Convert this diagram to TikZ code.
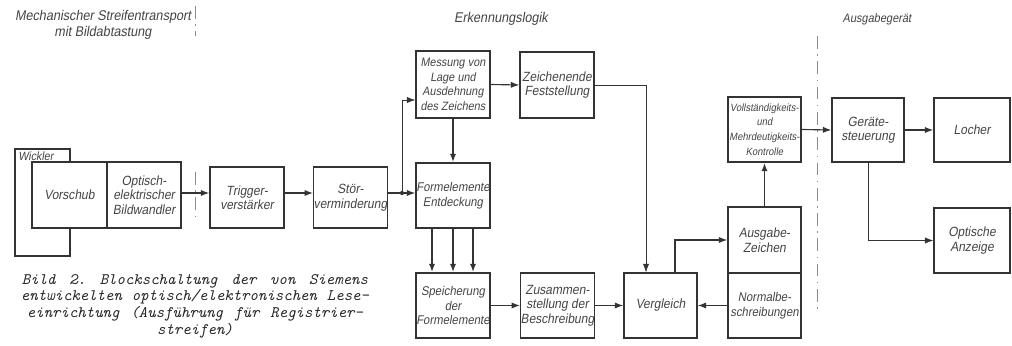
\documentclass[tikz,border=0pt]{standalone}
\usepackage{fontspec}
\usetikzlibrary{arrows.meta,calc}
\newfontfamily\labf[FakeStretch=0.9, FakeSlant=0.17]{Liberation Sans}
\definecolor{ink}{HTML}{333333}
\definecolor{txt}{HTML}{444444}
\newcommand\capfont{\ttfamily\itshape\addfontfeature{FakeBold=1}\fontsize{11.4}{11.9}\selectfont\frenchspacing\spaceskip=0.525em plus 2em\relax}
\begin{document}
\begin{tikzpicture}[x=0.025cm,y=-0.025cm,
  bx/.style 2 args={draw=ink, line width=1pt, minimum width=#1*0.025cm, minimum height=#2*0.025cm,
    inner sep=0pt, align=center, text=txt, font=\labf\fontsize{9.5}{10.3}\selectfont},
  arr/.style={draw=ink, line width=0.8pt, -{Latex[length=6pt,width=4.4pt]}},
  thickarr/.style={arr, line width=1.4pt},
  thinarr/.style={arr, line width=0.45pt},
  divider/.style={draw=black!45, line width=0.5pt, dash pattern=on 9pt off 4pt on 1pt off 4pt},
  hdr/.style={text=txt, font=\labf\fontsize{10}{11.5}\selectfont, align=center, inner sep=0pt},
  capt/.style={text=black!85, inner sep=0pt, align=center, font=\capfont},
]
\useasboundingbox (0,0) rectangle (1012,346);

% headers
\node[hdr] (h1) at (103,25) {Mechanischer Streifentransport\\mit Bildabtastung};
\node[hdr] (h2) at (501,19) {Erkennungslogik};
\node[hdr, font=\labf\fontsize{8.7}{10}\selectfont] (h3) at (877,19) {Ausgabegerät};

% dividers
\draw[divider] (195,6) -- (195,36);
\draw[divider] (195,172) -- (195,216);
\draw[divider] (817,36) -- (817,310);

% Wickler outline
\draw[ink, line width=1pt] (70,162) -- (70,149) -- (15,149) -- (15,256) -- (70,256) -- (70,228);
\node[text=txt, font=\labf\fontsize{8.5}{10}\selectfont, anchor=west, inner sep=0pt] (wick) at (18,156) {Wickler};

% boxes
\node[bx={75}{66}] (vorschub) at (69.5,195) {Vorschub};
\node[bx={74}{66}] (optisch) at (144,195) {Optisch-\\elektrischer\\Bildwandler};
\node[bx={74}{61}] (trigger) at (247,197.5) {Trigger-\\verstärker};
\node[bx={73}{61}] (stor) at (350.5,197.5) {Stör-\\verminderung};
\node[bx={74}{67}, font=\labf\fontsize{8.6}{10.5}\selectfont] (messung) at (453,84.5) {Messung von\\Lage und\\Ausdehnung\\des Zeichens};
\node[bx={74}{66}] (zeichen) at (557,85) {Zeichenende\\Feststellung};
\node[bx={74}{65}, font=\labf\fontsize{9}{10.3}\selectfont] (formel) at (453,195.5) {Formelemente\\Entdeckung};
\node[bx={74}{65}, font=\labf\fontsize{9}{10.3}\selectfont] (speicher) at (453,305.5) {Speicherung\\der\\Formelemente};
\node[bx={73}{65}] (zusammen) at (557.5,305.5) {Zusammen-\\stellung der\\Beschreibung};
\node[bx={73}{65}] (vergleich) at (660.5,305.5) {Vergleich};
\node[bx={73}{65}, font=\labf\fontsize{7.5}{10.5}\selectfont] (vollst) at (764.5,129.5) {Vollständigkeits-\\und\\Mehrdeutigkeits-\\Kontrolle};
\node[bx={73}{66}] (ausgabe) at (764.5,240) {Ausgabe-\\Zeichen};
\node[bx={73}{65}, font=\labf\fontsize{9}{10.3}\selectfont] (normal) at (764.5,305.5) {Normalbe-\\schreibungen};
\node[bx={72}{64}] (gerate) at (868,130) {Geräte-\\steuerung};
\node[bx={76}{64}] (locher) at (972,130) {Locher};
\node[bx={76}{65}] (optanz) at (972,240.5) {Optische\\Anzeige};

% helper coordinates
\coordinate (row) at (0,193);
\coordinate (mrow) at (0,100);
\coordinate (j) at (402,193);
\coordinate (vz) at (646,0);
\coordinate (va) at (675,0);

% connectors
\draw[arr] (optisch.east |- row) -- (trigger.west |- row);
\draw[arr] (trigger.east |- row) -- (stor.west |- row);
\draw[ink, line width=0.8pt] (stor.east |- row) -- (j);
\draw[arr] (j) -- (formel.west |- row);
\fill[ink] (j) circle (1.5pt);
\draw[thinarr] (j) |- (messung.west |- mrow);
\draw[arr] (messung.east) -- (zeichen.west);
\draw[thinarr] (zeichen.east) -| (vz |- vergleich.north);
\draw[thickarr] (messung.south) -- (formel.north);
\foreach \dx in {-21,0,20}
  \draw[thickarr] ([xshift=\dx*0.025cm]formel.south) -- ([xshift=\dx*0.025cm]speicher.north);
\draw[arr] (speicher.east) -- (zusammen.west);
\draw[arr] (zusammen.east) -- (vergleich.west);
\draw[arr] (va |- vergleich.north) |- (ausgabe.west);
\draw[arr] (normal.west) -- (vergleich.east);
\draw[thickarr] (ausgabe.north) -- (vollst.south);
\draw[arr] (vollst.east) -- (gerate.west);
\draw[arr] (gerate.east) -- (locher.west);
\draw[thinarr] (gerate.south) |- (optanz.west);

% caption
\node[capt] (cap) at (195,306) {\makebox[8.65cm][s]{Bild 2. Blockschaltung der von Siemens}\\
  \makebox[8.7cm][s]{entwickelten optisch/elektronischen Lese-}\\
  \makebox[8.4cm][s]{einrichtung (Ausführung für Registrier-}\\
  streifen)};
\end{tikzpicture}
\end{document}
